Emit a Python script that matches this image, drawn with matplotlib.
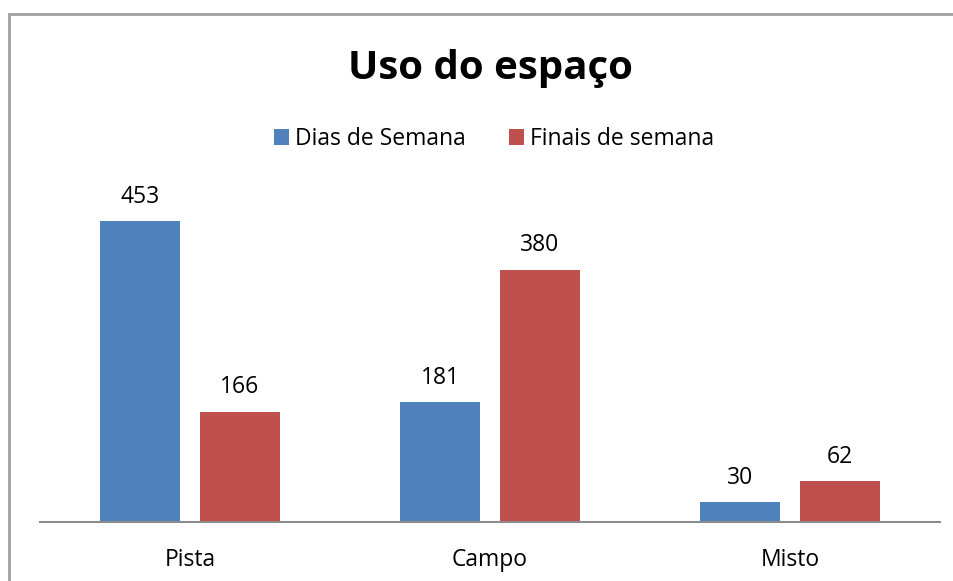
import matplotlib
matplotlib.use("Agg")
import matplotlib.pyplot as plt
import numpy as np
from matplotlib.patches import Rectangle

categories = ["Pista", "Campo", "Misto"]
series_names = ["Dias de Semana", "Finais de semana"]
dias_semana = [453, 181, 30]
finais_semana = [166, 380, 62]
colors = ["#4F81BD", "#C0504D"]

plt.rcParams['font.family'] = ['Open Sans', 'DejaVu Sans']

W, H = 954, 581
fig = plt.figure(figsize=(W / 100, H / 100), dpi=100)

# outer border (extends beyond right/bottom edges)
fig.patches.append(Rectangle((9 / W, -0.1), 1.2, (H - 14) / H + 0.1,
                             transform=fig.transFigure, fill=False,
                             edgecolor="#A0A0A0", linewidth=2))

ax = fig.add_axes([40 / W, (H - 522) / H, 900 / W, 332 / H])
x = np.arange(len(categories))
bw = 80 / 300
off = 50 / 300
b1 = ax.bar(x - off, dias_semana, bw, color=colors[0], label=series_names[0])
b2 = ax.bar(x + off, finais_semana, bw, color=colors[1], label=series_names[1])

for bars, vals in ((b1, dias_semana), (b2, finais_semana)):
    for rect, v in zip(bars, vals):
        ax.annotate(str(v), (rect.get_x() + rect.get_width() / 2, v),
                    xytext=(0, 17.5), textcoords="offset points",
                    ha="center", va="center", fontsize=16.5, color="black")

ax.set_xlim(-0.5, 2.5)
ax.set_ylim(0, 500)
ax.set_yticks([])
ax.set_xticks(x)
ax.set_xticklabels(categories, fontsize=16.5)
ax.tick_params(axis="x", length=0, pad=19)
for s in ("top", "right", "left"):
    ax.spines[s].set_visible(False)
ax.spines["bottom"].set_color("#8C8C8C")
ax.spines["bottom"].set_linewidth(1.5)

fig.text(490 / W, 1 - 68 / H, "Uso do espaço", ha="center", va="center",
         fontsize=29, fontweight="bold")

fig.legend(handles=[b1, b2], labels=series_names, loc="center",
           bbox_to_anchor=(494 / W, 1 - 139 / H), ncol=2, frameon=False,
           fontsize=16.5, handlelength=0.65, handleheight=0.65,
           handletextpad=0.25, columnspacing=1.9)

fig.savefig("out.png", dpi=100)
